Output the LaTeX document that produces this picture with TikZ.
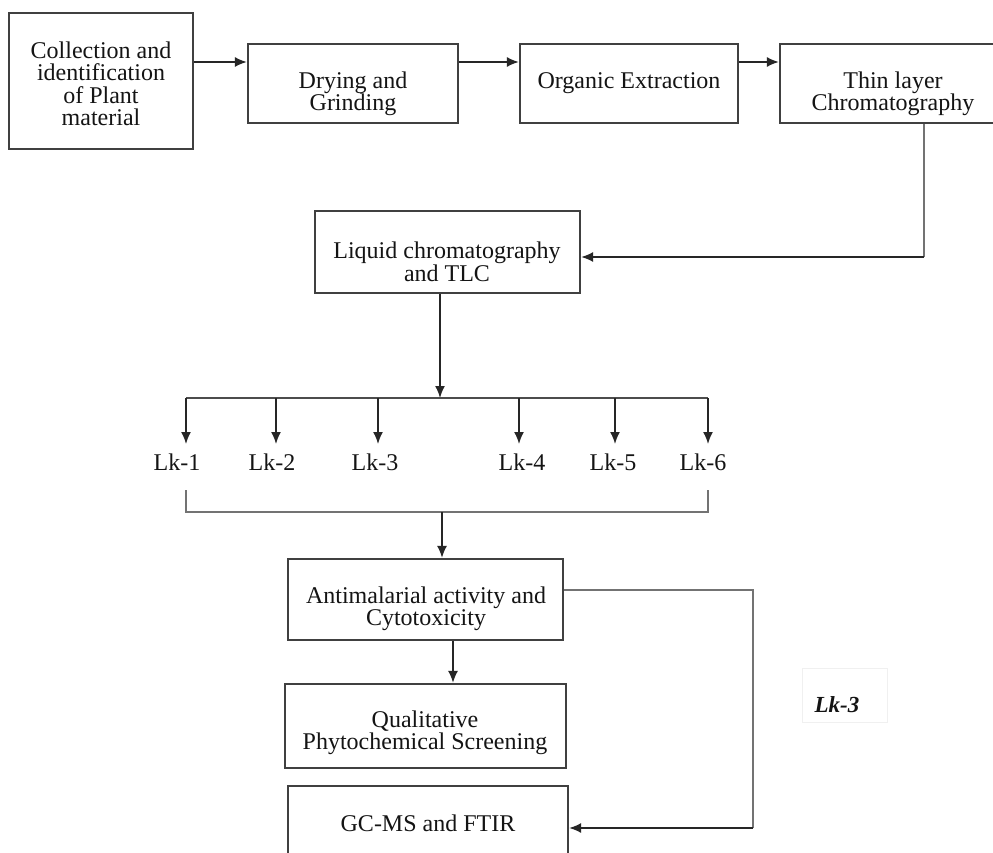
\documentclass[tikz,border=0pt]{standalone}
\usepackage{fontspec}
\setmainfont{Liberation Serif}
\usetikzlibrary{arrows.meta}
\begin{document}
\begin{tikzpicture}[x=1pt,y=-1pt,
  box/.style={draw=black!75,line width=2.2pt,rectangle,inner sep=0pt},
  txt/.style={align=center,inner sep=0pt,text=black!92,font=\fontsize{24}{22.5}\selectfont},
  conn/.style={draw=black!85,line width=1.7pt,-{Latex[length=12pt,width=10pt]}},
  thinln/.style={draw=black!55,line width=1.3pt},
  busln/.style={draw=black!70,line width=1.6pt}]
\useasboundingbox (0,0) rectangle (993,853);
\clip (0,0) rectangle (993,853);
\fill[white] (0,0) rectangle (993,853);

% boxes
\node[box,minimum width=184pt,minimum height=136pt] (b1) at (101,81) {};
\node[box,minimum width=210pt,minimum height=79pt] (b2) at (353,83.5) {};
\node[box,minimum width=218pt,minimum height=79pt] (b3) at (629,83.5) {};
\node[box,minimum width=230pt,minimum height=79pt] (b4) at (895,83.5) {};
\node[box,minimum width=265pt,minimum height=82pt] (b5) at (447.5,252) {};
\node[box,minimum width=275pt,minimum height=81pt] (b6) at (425.5,599.5) {};
\node[box,minimum width=281pt,minimum height=84pt] (b7) at (425.5,726) {};
\node[box,minimum width=280pt,minimum height=94pt] (b8) at (428,833) {};

% texts
\node[txt] (t1) at (101,84) {Collection and\\identification\\of Plant\\material};
\node[txt] (t2) at (353,94) {Drying and\\Grinding};
\node[txt] (t3) at (629,83) {Organic Extraction};
\node[txt] (t4) at (893,94) {Thin layer\\Chromatography};
\node[txt] (t5) at (447,262) {Liquid chromatography\\and TLC};
\node[txt] (t6) at (426,609) {Antimalarial activity and\\Cytotoxicity};
\node[txt] (t7) at (425,733) {Qualitative\\Phytochemical Screening};
\node[txt] (t8) at (428,823) {GC-MS and FTIR};

% top row arrows
\coordinate (r1) at (0,62);
\draw[conn] (b1.east |- r1) -- (b2.west |- r1);
\draw[conn] (b2.east |- r1) -- (b3.west |- r1);
\draw[conn] (b3.east |- r1) -- (b4.west |- r1);

% b4 -> b5
\coordinate (c4) at (924,257);
\draw[thinln] (b4.south -| c4) -- (c4);
\draw[conn] (c4) -- (b5.east |- c4);

% b5 -> bus
\coordinate (bus) at (440,398);
\draw[conn] (b5.south -| bus) -- (bus);

% Lk labels
\node[txt] (lk1) at (177,462) {Lk-1};
\node[txt] (lk2) at (272,462) {Lk-2};
\node[txt] (lk3) at (375,462) {Lk-3};
\node[txt] (lk4) at (522,462) {Lk-4};
\node[txt] (lk5) at (613,462) {Lk-5};
\node[txt] (lk6) at (703,462) {Lk-6};

\coordinate (a1) at (186,398);
\coordinate (a2) at (276,398);
\coordinate (a3) at (378,398);
\coordinate (a4) at (519,398);
\coordinate (a5) at (615,398);
\coordinate (a6) at (708,398);
\coordinate (tip) at (0,444);
\draw[busln] (a1) -- (a6);
\foreach \i in {1,...,6}{
  \draw[conn] (a\i) -- (a\i |- tip);
}

% bracket
\coordinate (k1) at (186,490);
\coordinate (k2) at (708,490);
\coordinate (kb) at (442,512);
\draw[thinln] (k1) -- (k1 |- kb) -- (k2 |- kb) -- (k2);
\draw[conn] (kb) -- (b6.north -| kb);

% b6 -> b7
\coordinate (c6) at (453,0);
\draw[conn] (b6.south -| c6) -- (b7.north -| c6);

% b6 -> b8
\coordinate (r6) at (753,590);
\coordinate (r8) at (753,828);
\draw[thinln] (b6.east |- r6) -- (r6) -- (r8);
\draw[conn] (r8) -- (b8.east |- r8);

% Lk-3 side label
\draw[draw=black!6,line width=1pt] (802,668) rectangle (887,722);
\node[txt,font=\bfseries\itshape\fontsize{23}{23}\selectfont] (lkside) at (837,705) {Lk-3};
\end{tikzpicture}
\end{document}
